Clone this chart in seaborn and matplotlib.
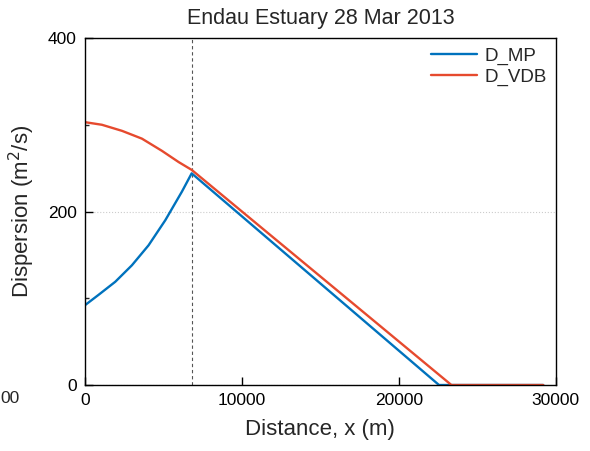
import pandas as pd
import matplotlib
matplotlib.use("Agg")
import matplotlib.pyplot as plt
from matplotlib.ticker import MultipleLocator
import seaborn as sns

# values
mp_x = [0, 870, 1930, 2990, 4050, 5120, 6180, 6800, 22560, 29200]
mp_y = [92, 104, 119, 138, 161, 190, 223, 244, 0, 0]
vdb_x = [0, 1080, 2360, 3630, 4900, 5970, 6800, 23350, 29200]
vdb_y = [303, 300, 293, 284, 270, 257, 248, 0, 0]
x_split = 6800

df = pd.concat([
    pd.DataFrame({"x": mp_x, "D": mp_y, "series": "D_MP"}),
    pd.DataFrame({"x": vdb_x, "D": vdb_y, "series": "D_VDB"}),
])

sns.set_style("ticks")
plt.rcParams["font.family"] = ["Liberation Sans", "DejaVu Sans"]

fig = plt.figure(figsize=(5.9, 4.51), dpi=100)
ax = fig.add_axes([0.144, 0.1463, 0.798, 0.7694])

sns.lineplot(data=df, x="x", y="D", hue="series", estimator=None,
             palette={"D_MP": "#0072BD", "D_VDB": "#E64A2E"},
             linewidth=1.7, ax=ax)
ax.axvline(x_split, color="#555555", lw=0.8, linestyle=(0, (3, 2.5)), zorder=1)

ax.set_xlim(0, 30000)
ax.set_ylim(0, 400)
ax.xaxis.set_major_locator(MultipleLocator(10000))
ax.yaxis.set_major_locator(MultipleLocator(200))
ax.yaxis.set_minor_locator(MultipleLocator(100))
ax.tick_params(direction="in", length=6, width=1, labelsize=12.5, colors="black", pad=6)
ax.tick_params(which="minor", direction="in", length=3, width=1)
ax.grid(axis="y", which="major", color="#cccccc", linestyle=":", lw=0.8)
for s in ax.spines.values():
    s.set_linewidth(1.0)
    s.set_color("black")

ax.set_title("Endau Estuary 28 Mar 2013", fontsize=15.5, pad=10)
ax.set_xlabel("Distance, x (m)", fontsize=16, labelpad=8)
ax.set_ylabel("Dispersion (m$^2$/s)", fontsize=16, labelpad=8)

h, l = ax.get_legend_handles_labels()
ax.legend(h, l, loc="upper right", frameon=False, fontsize=13.5,
          handlelength=2.5, handletextpad=0.35, labelspacing=0.2,
          borderaxespad=0.1)

# clipped tick label at the far left edge of the figure
fig.text(0.0, 1 - 391 / 451, "00", fontsize=12.5, ha="left", va="top")

fig.savefig("out.png", dpi=100)
